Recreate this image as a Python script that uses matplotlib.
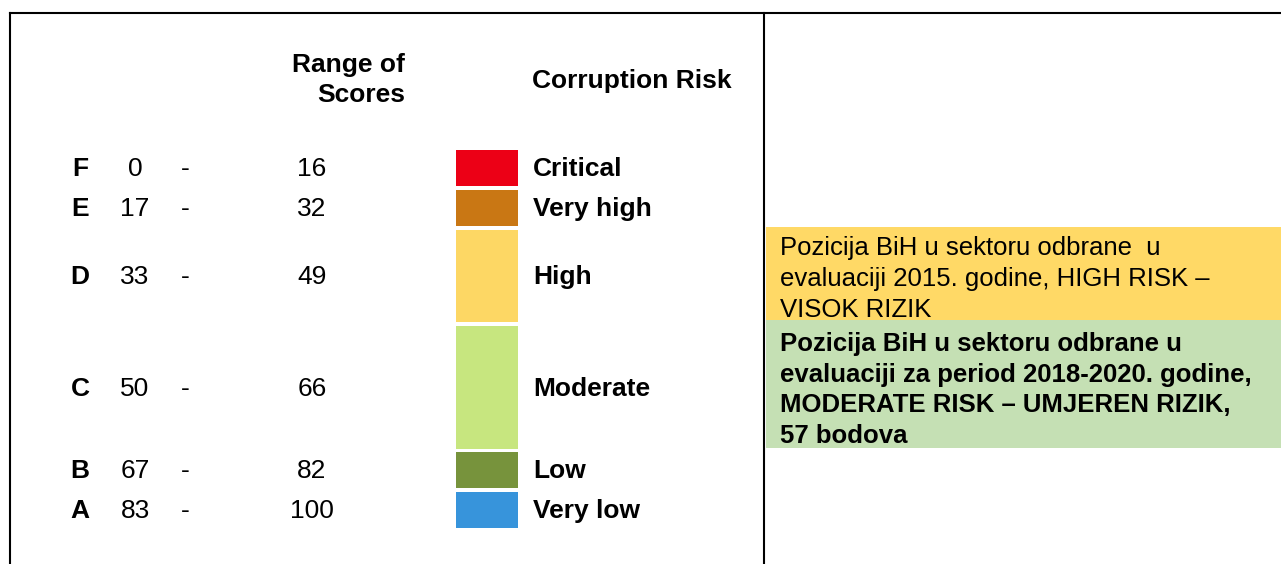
import matplotlib
matplotlib.use("Agg")
from matplotlib import pyplot as plt

# datos de la tabla
grades = ["F", "E", "D", "C", "B", "A"]
score_low = [0, 17, 33, 50, 67, 83]
score_high = [16, 32, 49, 66, 82, 100]
risk_labels = ["Critical", "Very high", "High", "Moderate", "Low", "Very low"]
risk_colors = ["#EC0016", "#C97714", "#FDD764", "#C7E67F", "#77933C", "#3794DB"]

note_2015 = "Pozicija BiH u sektoru odbrane  u\nevaluaciji 2015. godine, HIGH RISK –\nVISOK RIZIK"
note_2018 = ("Pozicija BiH u sektoru odbrane u\nevaluaciji za period 2018-2020. godine,\n"
             "MODERATE RISK – UMJEREN RIZIK,\n57 bodova")

# layout en pixeles (filas de la tabla)
row_top = [150, 190, 230, 326, 452, 492]
row_bottom = [186, 226, 322, 449, 488, 528]

plt.rcParams['font.family'] = ['Liberation Sans', 'DejaVu Sans']

fig = plt.figure(figsize=(12.81, 5.64), dpi=100)
ax = fig.add_axes([0, 0, 1, 1])
ax.set_xlim(0, 1281)
ax.set_ylim(564, 0)
ax.axis("off")

# bordes
ax.plot([10, 1281], [13, 13], color="black", lw=1.5)
ax.plot([10, 10], [13, 564], color="black", lw=1.5)
ax.plot([764, 764], [13, 564], color="black", lw=1.5)

fs = 19
# cabeceras
ax.text(405, 65, "Range of", ha="right", va="center", fontsize=fs, fontweight="bold")
ax.text(405, 95, "Scores", ha="right", va="center", fontsize=fs, fontweight="bold")
ax.text(532, 81, "Corruption Risk", ha="left", va="center", fontsize=fs, fontweight="bold")

heights = [b - t for t, b in zip(row_top, row_bottom)]
ax.bar([487] * len(grades), heights, width=62, bottom=row_top, color=risk_colors)

for i in range(len(grades)):
    yc = (row_top[i] + row_bottom[i]) / 2 + 1
    ax.text(80, yc, grades[i], ha="center", va="center", fontsize=fs, fontweight="bold")
    ax.text(135, yc, str(score_low[i]), ha="center", va="center", fontsize=fs)
    ax.text(185, yc, "-", ha="center", va="center", fontsize=fs)
    ax.text(312, yc, str(score_high[i]), ha="center", va="center", fontsize=fs)
    ax.text(533, yc, risk_labels[i], ha="left", va="center", fontsize=fs, fontweight="bold")

# notas de la derecha
ax.bar(1023.5, 93, width=515, bottom=227, color="#FFD966")
ax.bar(1023.5, 128, width=515, bottom=320, color="#C5E0B4")
ax.text(780, 279, note_2015, ha="left", va="center", fontsize=18.5, linespacing=1.35)
ax.text(780, 390, note_2018, ha="left", va="center", fontsize=18.5, fontweight="bold",
        linespacing=1.35)

fig.savefig("out.png", dpi=100)
